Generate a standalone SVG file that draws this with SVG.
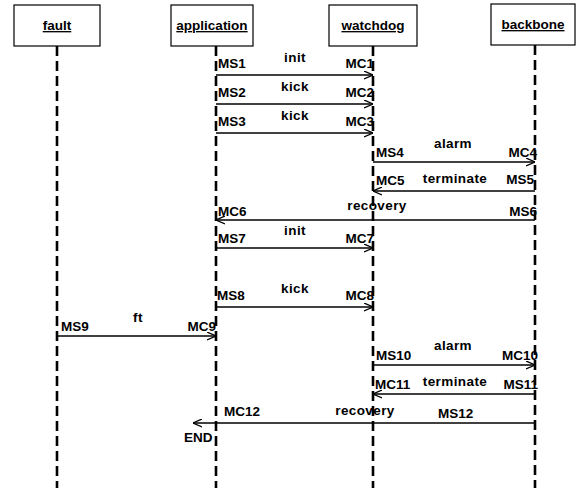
<svg xmlns="http://www.w3.org/2000/svg" width="580" height="488" viewBox="0 0 580 488">
<style>
text{font-family:"Liberation Sans",Arial,sans-serif;font-weight:bold;fill:#000}
.box{fill:#fff;stroke:#000;stroke-width:1.2}
.bl{font-size:13.5px;text-decoration:underline;text-anchor:middle}
.life{stroke:#000;stroke-width:2.6;stroke-dasharray:10 5;fill:none}
.msg{stroke:#000;stroke-width:1.3;fill:none;marker-end:url(#ah)}
.lb{font-size:13.5px}
.nm{font-size:13.5px;text-anchor:middle;letter-spacing:0.4px}
.r{text-anchor:end}
</style>
<defs>
<marker id="ah" viewBox="0 0 10 10" refX="10" refY="5" markerWidth="9" markerHeight="9" markerUnits="userSpaceOnUse" orient="auto">
<path d="M0,0.5 L10,5 L0,9.5" fill="none" stroke="#000" stroke-width="1.4"/>
</marker>
</defs>
<rect width="580" height="488" fill="#fff"/>
<g id="fault"><rect class="box" x="14" y="5" width="86" height="41"/><text class="bl" x="57" y="30">fault</text><line class="life" x1="57" y1="46" x2="57" y2="488"/></g>
<g id="application"><rect class="box" x="171" y="5" width="82" height="41"/><text class="bl" x="212" y="30">application</text><line class="life" x1="216" y1="46" x2="216" y2="488"/></g>
<g id="watchdog"><rect class="box" x="329" y="5" width="88" height="41"/><text class="bl" x="373" y="30">watchdog</text><line class="life" x1="373" y1="46" x2="373" y2="488"/></g>
<g id="backbone"><rect class="box" x="491" y="4" width="84" height="41"/><text class="bl" x="533" y="29">backbone</text><line class="life" x1="535" y1="45" x2="535" y2="488"/></g>
<g id="connectors">
<line class="msg" x1="216" y1="75" x2="373" y2="75"/>
<line class="msg" x1="216" y1="104" x2="373" y2="104"/>
<line class="msg" x1="216" y1="133" x2="373" y2="133"/>
<line class="msg" x1="373" y1="162" x2="535" y2="162"/>
<line class="msg" x1="535" y1="191" x2="373" y2="191"/>
<line class="msg" x1="535" y1="220" x2="216" y2="220"/>
<line class="msg" x1="216" y1="248" x2="373" y2="248"/>
<line class="msg" x1="216" y1="307" x2="373" y2="307"/>
<line class="msg" x1="57" y1="336" x2="216" y2="336"/>
<line class="msg" x1="373" y1="365" x2="535" y2="365"/>
<line class="msg" x1="535" y1="394" x2="373" y2="394"/>
<line class="msg" x1="535" y1="423" x2="193" y2="423"/>
</g>
<g id="labels">
<text class="nm" x="295" y="62">init</text>
<text class="lb" x="218" y="68">MS1</text><text class="lb r" x="374" y="68">MC1</text>
<text class="nm" x="295" y="91">kick</text>
<text class="lb" x="218" y="97">MS2</text><text class="lb r" x="374" y="97">MC2</text>
<text class="nm" x="295" y="120">kick</text>
<text class="lb" x="218" y="126">MS3</text><text class="lb r" x="374" y="126">MC3</text>
<text class="nm" x="453" y="148">alarm</text>
<text class="lb" x="376" y="157">MS4</text><text class="lb r" x="537" y="157">MC4</text>
<text class="nm" x="455" y="183">terminate</text>
<text class="lb" x="376" y="185">MC5</text><text class="lb r" x="534" y="184">MS5</text>
<text class="nm" x="377" y="210">recovery</text>
<text class="lb" x="218" y="216">MC6</text><text class="lb r" x="537" y="216">MS6</text>
<text class="nm" x="295" y="235">init</text>
<text class="lb" x="218" y="243">MS7</text><text class="lb r" x="374" y="243">MC7</text>
<text class="nm" x="295" y="293">kick</text>
<text class="lb" x="217" y="300">MS8</text><text class="lb r" x="374" y="300">MC8</text>
<text class="nm" x="138" y="322">ft</text>
<text class="lb" x="61" y="331">MS9</text><text class="lb r" x="216" y="331">MC9</text>
<text class="nm" x="453" y="350">alarm</text>
<text class="lb" x="376" y="360">MS10</text><text class="lb r" x="538" y="360">MC10</text>
<text class="nm" x="455" y="386">terminate</text>
<text class="lb" x="375" y="389">MC11</text><text class="lb r" x="538" y="389">MS11</text>
<text class="nm" x="365" y="415">recovery</text>
<text class="lb" x="224" y="416">MC12</text><text class="lb" x="438" y="418">MS12</text>
<text class="lb" x="184" y="442">END</text>
</g>
</svg>
